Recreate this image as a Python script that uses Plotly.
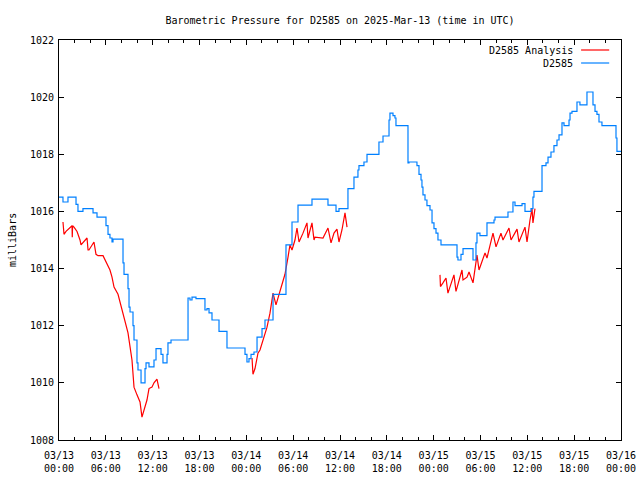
import pandas as pd
import plotly.graph_objects as go

# ---- data (hours since 2025-03-13 00:00 UTC, pressure in mb) ----
station_hours = [0, 0.51, 1.15, 2.18, 2.43, 3.07, 4.36, 4.87, 6.02, 6.28, 6.53, 6.79, 6.92,
                 8.20, 8.33, 8.84, 8.97, 9.10, 9.48, 9.61, 9.99, 10.12, 10.51, 11.02, 11.15,
                 11.53, 12.17, 12.43, 13.07, 13.32, 13.84, 13.96, 14.35, 16.53, 16.78, 17.04,
                 17.55, 18.70, 18.96, 19.22, 19.60, 20.50, 21.52, 23.83, 24.08, 24.34, 24.60,
                 24.98, 25.37, 26.01, 26.39, 27.42, 29.08, 29.85, 30.62, 32.41, 34.46, 35.49,
                 35.87, 37.02, 37.79, 38.30, 38.43, 39.07, 39.46, 40.99, 41.51, 42.28, 42.40,
                 42.79, 43.04, 43.17, 44.71, 44.84, 45.86, 46.12, 46.38, 46.50, 46.63, 46.89,
                 47.14, 47.53, 47.79, 48.04, 48.30, 48.55, 48.94, 50.99, 51.11, 51.50, 51.76,
                 53.04, 53.42, 53.55, 53.93, 54.83, 55.73, 55.86, 57.52, 58.16, 58.42, 59.32,
                 59.70, 60.47, 60.72, 60.85, 61.88, 62.39, 62.65, 63.03, 63.41, 63.80, 64.06,
                 64.44, 64.70, 65.34, 65.47, 65.72, 66.36, 66.74, 67.64, 68.41, 68.67, 68.92,
                 69.18, 69.56, 71.36, 71.48, 72.0]
station_mb = [1016.5, 1016.33, 1016.5, 1016.25, 1016.0, 1016.1, 1015.95, 1015.8, 1015.5, 1015.2,
              1015.07, 1014.93, 1015.03, 1014.2, 1013.8, 1013.3, 1012.65, 1012.48, 1012.0, 1011.5,
              1010.7, 1010.45, 1010.0, 1010.5, 1010.7, 1010.56, 1010.8, 1011.2, 1011.0, 1010.7,
              1011.0, 1011.4, 1011.5, 1012.97, 1012.9, 1013.0, 1012.95, 1012.55, 1012.6, 1012.45,
              1012.2, 1011.8, 1011.22, 1011.0, 1010.73, 1010.85, 1011.0, 1011.08, 1011.6, 1011.9,
              1012.2, 1013.1, 1014.83, 1015.63, 1016.22, 1016.43, 1016.22, 1016.0, 1016.1, 1016.8,
              1017.2, 1017.45, 1017.6, 1017.73, 1018.0, 1018.43, 1018.64, 1019.2, 1019.44, 1019.35,
              1019.27, 1019.0, 1017.7, 1017.73, 1017.6, 1017.3, 1017.1, 1016.85, 1016.58, 1016.4,
              1016.2, 1016.05, 1015.6, 1015.4, 1015.24, 1015.0, 1014.83, 1014.4, 1014.3, 1014.5,
              1014.7, 1014.3, 1014.9, 1015.24, 1015.15, 1015.6, 1015.7, 1015.8, 1015.98, 1016.33,
              1016.2, 1016.27, 1016.0, 1016.1, 1016.5, 1016.7, 1017.6, 1017.7, 1017.9, 1018.08,
              1018.3, 1018.5, 1018.68, 1019.1, 1019.0, 1019.2, 1019.44, 1019.5, 1019.83, 1019.73,
              1020.18, 1019.73, 1019.5, 1019.4, 1019.13, 1019.0, 1018.57, 1018.1, 1018.1]

analysis_hours_1 = [0.51, 0.64, 0.90, 1.28, 1.67, 1.70, 1.74, 1.92, 2.31, 2.69, 2.82, 3.59, 3.72,
                    3.84, 4.48, 4.74, 5.00, 5.64, 5.89, 6.53, 6.79, 7.05, 7.56, 7.81, 8.20, 8.58,
                    8.84, 9.35, 9.61, 9.99, 10.38, 10.63, 10.89, 11.27, 11.53, 11.91, 12.17, 12.55,
                    12.81]
analysis_mb_1 = [1015.63, 1015.2, 1015.3, 1015.4, 1015.5, 1015.1, 1015.5, 1015.45, 1015.3, 1015.0,
                 1014.83, 1015.07, 1014.65, 1014.65, 1014.93, 1014.5, 1014.45, 1014.45, 1014.3,
                 1013.95, 1013.7, 1013.35, 1013.1, 1012.85, 1012.44, 1012.1, 1011.75, 1010.8,
                 1009.85, 1009.58, 1009.33, 1008.8, 1009.05, 1009.4, 1009.8, 1009.85, 1010.0,
                 1010.13, 1009.8]
analysis_hours_2 = [24.73, 24.85, 25.11, 25.49, 25.75, 26.13, 26.65, 27.03, 27.42, 27.80, 28.18,
                    28.57, 28.95, 29.34, 29.59, 29.85, 30.23, 30.49, 30.75, 31.26, 31.77, 31.90,
                    32.41, 32.67, 32.80, 33.82, 34.46, 34.85, 35.23, 35.61, 35.87, 36.25, 36.64,
                    36.90]
analysis_mb_2 = [1010.87, 1010.3, 1010.5, 1011.04, 1011.15, 1011.5, 1011.95, 1012.44, 1013.14,
                 1012.73, 1013.1, 1013.5, 1013.8, 1014.4, 1014.83, 1014.65, 1015.0, 1015.42,
                 1014.93, 1015.24, 1015.6, 1015.07, 1015.6, 1015.0, 1015.1, 1015.07, 1015.42,
                 1014.9, 1015.24, 1015.38, 1014.93, 1015.35, 1015.95, 1015.45]
analysis_hours_3 = [48.81, 48.87, 49.19, 49.58, 49.83, 50.22, 50.60, 50.86, 51.63, 51.76, 52.27,
                    52.53, 53.04, 53.55, 53.81, 54.58, 54.83, 55.60, 55.99, 56.62, 56.88, 57.65,
                    57.91, 58.68, 58.93, 59.70, 59.96, 60.34, 60.60, 60.72, 60.98]
analysis_mb_3 = [1013.78, 1013.37, 1013.5, 1013.67, 1013.14, 1013.5, 1013.78, 1013.2, 1013.95,
                 1013.6, 1013.7, 1013.88, 1013.5, 1014.47, 1013.95, 1014.55, 1014.37, 1015.24,
                 1014.76, 1015.24, 1015.0, 1015.42, 1015.0, 1015.38, 1014.93, 1015.45, 1014.93,
                 1015.7, 1016.1, 1015.6, 1016.1]

start = pd.Timestamp("2025-03-13 00:00")
end = pd.Timestamp("2025-03-16 00:00")


def to_time(hours):
    return [start + pd.Timedelta(hours=h) for h in hours]


a_x = to_time(analysis_hours_1) + [None] + to_time(analysis_hours_2) + [None] + to_time(analysis_hours_3)
a_y = analysis_mb_1 + [None] + analysis_mb_2 + [None] + analysis_mb_3

FONT = "DejaVu Sans Mono"
RED = "#ff0000"
BLUE = "#0080ff"

fig = go.Figure()
fig.add_trace(go.Scatter(x=a_x, y=a_y, mode="lines", name="D2585 Analysis",
                         line=dict(color=RED, width=1.2), connectgaps=False))
fig.add_trace(go.Scatter(x=to_time(station_hours), y=station_mb, mode="lines", name="D2585",
                         line=dict(color=BLUE, width=1.2, shape="hv")))

# gnuplot-style legend: text then line sample, right aligned
legend_items = [("D2585 Analysis", RED, 0.975), ("D2585", BLUE, 0.9425)]
for label, color, yy in legend_items:
    fig.add_annotation(x=0.918, y=yy, xref="paper", yref="paper", text=label, showarrow=False,
                       xanchor="right", yanchor="middle", font=dict(family=FONT, size=10, color="black"))
    fig.add_shape(type="line", xref="paper", yref="paper", x0=0.929, x1=0.979, y0=yy, y1=yy,
                  line=dict(color=color, width=1.2))

# y-axis title, rotated, placed like the original
fig.add_annotation(x=-47 / 562, y=0.5, xref="paper", yref="paper", text="milliBars",
                   showarrow=False, textangle=-90, xanchor="center", yanchor="middle",
                   font=dict(family=FONT, size=10, color="black"))

fig.update_layout(
    width=640, height=480,
    margin=dict(l=59, r=19, t=40, b=40, autoexpand=False),
    paper_bgcolor="white", plot_bgcolor="white",
    showlegend=False,
    font=dict(family=FONT, size=10, color="black"),
    title=dict(text="Barometric Pressure for D2585 on 2025-Mar-13 (time in UTC)",
               x=0.5, xref="paper", y=1 - 20 / 480, yref="container", yanchor="middle",
               font=dict(family=FONT, size=10, color="black")),
)
fig.update_xaxes(
    range=[start, end], type="date", automargin=False,
    tickmode="linear", tick0=start, dtick=6 * 3600 * 1000,
    tickformat="%m/%d<br>%H:%M", ticklabelstandoff=6,
    ticks="inside", ticklen=5, tickcolor="black", tickwidth=1,
    showline=True, linecolor="black", linewidth=1, mirror="allticks",
    showgrid=False, zeroline=False,
    minor=dict(dtick=2 * 3600 * 1000, tick0=start, ticks="inside", ticklen=3,
               tickcolor="black", showgrid=False),
    tickfont=dict(family=FONT, size=10),
)
fig.update_yaxes(
    range=[1008, 1022], tickmode="linear", tick0=1008, dtick=2, automargin=False,
    ticklabelstandoff=2,
    ticks="inside", ticklen=5, tickcolor="black", tickwidth=1,
    showline=True, linecolor="black", linewidth=1, mirror="allticks",
    showgrid=False, zeroline=False,
    tickfont=dict(family=FONT, size=10),
)

fig.write_html("out.html", config={"displayModeBar": False},
               post_script="document.body.style.margin='0';document.body.style.overflow='hidden';")
